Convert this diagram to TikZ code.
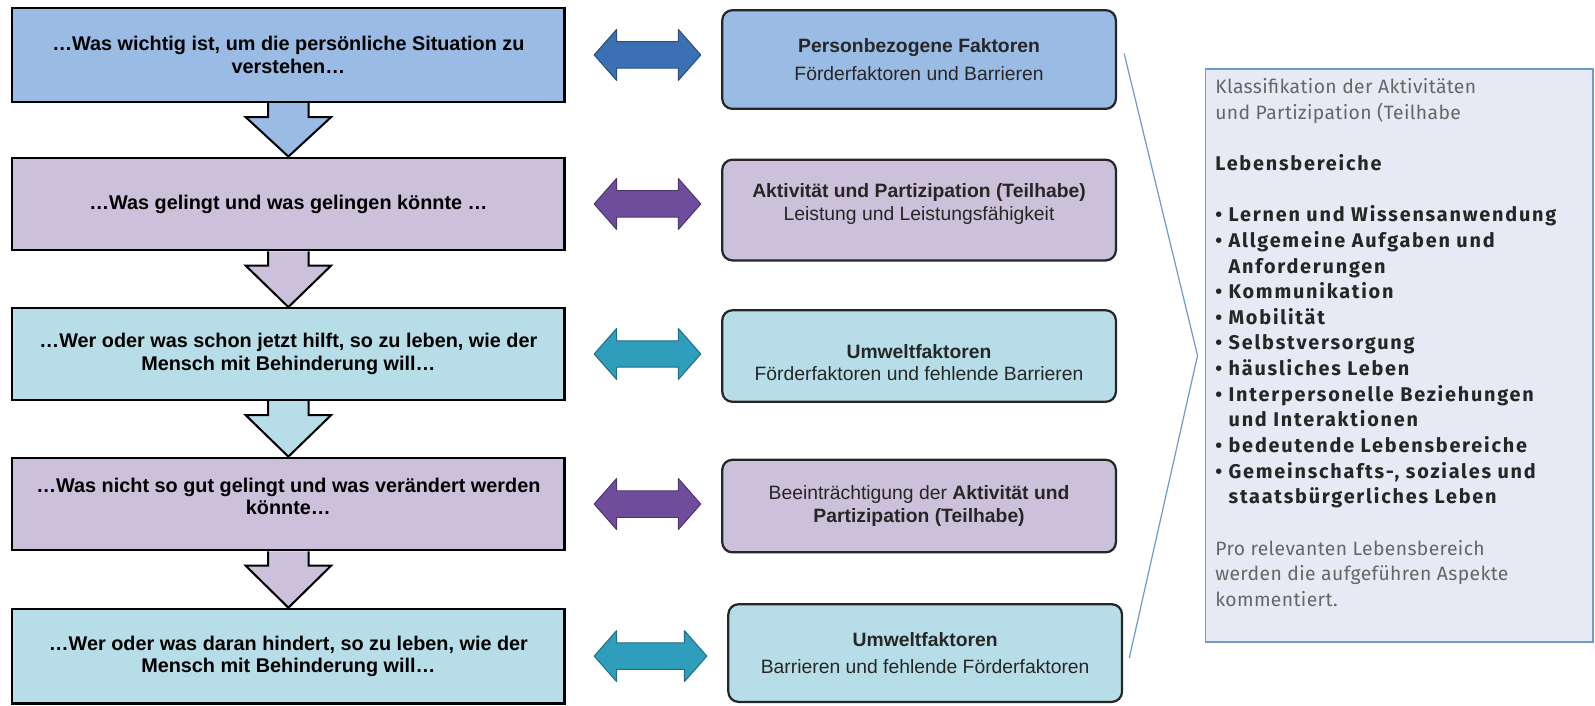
\documentclass[tikz,border=0pt]{standalone}
\usepackage{fontspec}
\setmainfont{Liberation Sans}
\newfontfamily\dinfont{Fira Sans}[LetterSpace=2,BoldFeatures={LetterSpace=9}]
\usetikzlibrary{calc,backgrounds}

\definecolor{boxblue}{HTML}{9ABCE4}
\definecolor{boxlila}{HTML}{CCC1DA}
\definecolor{boxcyan}{HTML}{B7DEE8}
\definecolor{arrblue}{HTML}{3C70B4}
\definecolor{arrlila}{HTML}{6E4E9C}
\definecolor{arrcyan}{HTML}{2F9EBC}
\definecolor{infofill}{HTML}{E7E9F5}
\definecolor{infoline}{HTML}{6E9BCB}
\definecolor{infogray}{HTML}{666666}

\tikzset{
  leftbox/.style={draw=black, line width=2.2pt, minimum width=543pt, inner sep=0pt,
    align=center, font=\bfseries\fontsize{19.5}{22}\selectfont},
  midbox/.style={draw=black!85, line width=2.2pt, rounded corners=10pt, minimum width=387pt,
    inner sep=0pt, align=center, text=black!85, font=\fontsize{19}{22}\selectfont},
  downarrow/.style={draw=black, line width=2pt},
  twowayarrow/.style={line width=1pt, line join=round},
  infobox/.style={draw=infoline, fill=infofill, line width=1.5pt, minimum width=381pt, minimum height=563pt},
  infotext/.style={inner sep=0pt, align=left, text=infogray, font=\dinfont\fontsize{19}{25.2}\selectfont}
}

% block arrow between two boxes of the left column
\newcommand\downstep[3]{%
  \draw[downarrow, fill=#3] ([xshift=-20pt]#1.south) -- ($(#1.south)+(-20,14)$) -- ($(#1.south)+(-42,14)$)
    -- (#2.north) -- ($(#1.south)+(42,14)$) -- ($(#1.south)+(20,14)$) -- ([xshift=20pt]#1.south);
}
% double arrow from left box to middle box
\newcommand\twoway[3]{%
  \draw[twowayarrow, fill=#3, draw=#3!70!black] let \p1=([xshift=28pt]#1.east), \p2=([xshift=-20pt]#2.west) in
    (\x1,\y1) -- ++(22pt,25pt) -- ++(0,-12pt) -- (\x2-22pt,\y1+13pt) -- ++(0,12pt) -- (\x2,\y1)
    -- ++(-22pt,-25pt) -- ++(0,12pt) -- (\x1+22pt,\y1-13pt) -- ++(0,-12pt) -- cycle;
}
\newcommand\lbitem[1]{{\bfseries\fontsize{19.5}{25.2}\selectfont\color{black!85}#1}}

\begin{document}
\begin{tikzpicture}[x=1pt, y=-1pt]
\useasboundingbox (0,0) rectangle (1568,694);

% left column
\node[leftbox, fill=boxblue, minimum height=92pt] (l1) at (283.5,54) {…Was wichtig ist, um die persönliche Situation zu\\ verstehen…};
\node[leftbox, fill=boxlila, minimum height=91pt] (l2) at (283.5,200.5) {…Was gelingt und was gelingen könnte …};
\node[leftbox, fill=boxcyan, minimum height=90pt] (l3) at (283.5,348) {…Wer oder was schon jetzt hilft, so zu leben, wie der\\ Mensch mit Behinderung will…};
\node[leftbox, fill=boxlila, minimum height=91pt, text depth=15pt] (l4) at (283.5,495.5) {…Was nicht so gut gelingt und was verändert werden\\ könnte…};
\node[leftbox, fill=boxcyan, minimum height=93pt] (l5) at (283.5,645) {…Wer oder was daran hindert, so zu leben, wie der\\ Mensch mit Behinderung will…};

% middle column
\node[midbox, fill=boxblue, minimum height=97pt] (m1) at (903.5,58.5) {\textbf{Personbezogene Faktoren}\\[5pt] Förderfaktoren und Barrieren};
\node[midbox, fill=boxlila, minimum height=99pt, text depth=16pt] (m2) at (903.5,206.5) {\textbf{Aktivität und Partizipation (Teilhabe)}\\ Leistung und Leistungsfähigkeit};
\node[midbox, fill=boxcyan, minimum height=90pt, text height=49pt] (m3) at (903.5,350) {\textbf{Umweltfaktoren}\\ Förderfaktoren und fehlende Barrieren};
\node[midbox, fill=boxlila, minimum height=91pt] (m4) at (903.5,497.5) {Beeinträchtigung der \textbf{Aktivität und}\\ \textbf{Partizipation (Teilhabe)}};
\node[midbox, fill=boxcyan, minimum height=96pt] (m5) at (909.5,642) {\textbf{Umweltfaktoren}\\[5pt] Barrieren und fehlende Förderfaktoren};

% right info box
\node[infobox] (info) at (1375.5,349.5) {};
\node[infotext, anchor=north west] (infotxt) at (1194.5,77) {%
  Klassifikation der Aktivitäten\\
  und Partizipation (Teilhabe\\[25.2pt]
  \lbitem{Lebensbereiche}\\[25.2pt]
  \lbitem{\textbullet\ Lernen und Wissensanwendung}\\
  \lbitem{\textbullet\ Allgemeine Aufgaben und}\\
  \lbitem{\hphantom{\textbullet\ }Anforderungen}\\
  \lbitem{\textbullet\ Kommunikation}\\
  \lbitem{\textbullet\ Mobilität}\\
  \lbitem{\textbullet\ Selbstversorgung}\\
  \lbitem{\textbullet\ häusliches Leben}\\
  \lbitem{\textbullet\ Interpersonelle Beziehungen}\\
  \lbitem{\hphantom{\textbullet\ }und Interaktionen}\\
  \lbitem{\textbullet\ bedeutende Lebensbereiche}\\
  \lbitem{\textbullet\ Gemeinschafts-, soziales und}\\
  \lbitem{\hphantom{\textbullet\ }staatsbürgerliches Leben}\\[25.2pt]
  Pro relevanten Lebensbereich\\
  werden die aufgeführen Aspekte\\
  kommentiert.};

% bracket towards the info box
\draw[infoline, line width=1.2pt] ([shift={(7,-6)}]m1.east) -- ([xshift=-7pt]info.west) -- ([shift={(6,5)}]m5.east);

% arrows down the left column
\begin{scope}[on background layer]
\downstep{l1}{l2}{boxblue}
\downstep{l2}{l3}{boxlila}
\downstep{l3}{l4}{boxcyan}
\downstep{l4}{l5}{boxlila}
\end{scope}

% arrows between the columns
\twoway{l1}{m1}{arrblue}
\twoway{l2}{m2}{arrlila}
\twoway{l3}{m3}{arrcyan}
\twoway{l4}{m4}{arrlila}
\twoway{l5}{m5}{arrcyan}
\end{tikzpicture}
\end{document}
